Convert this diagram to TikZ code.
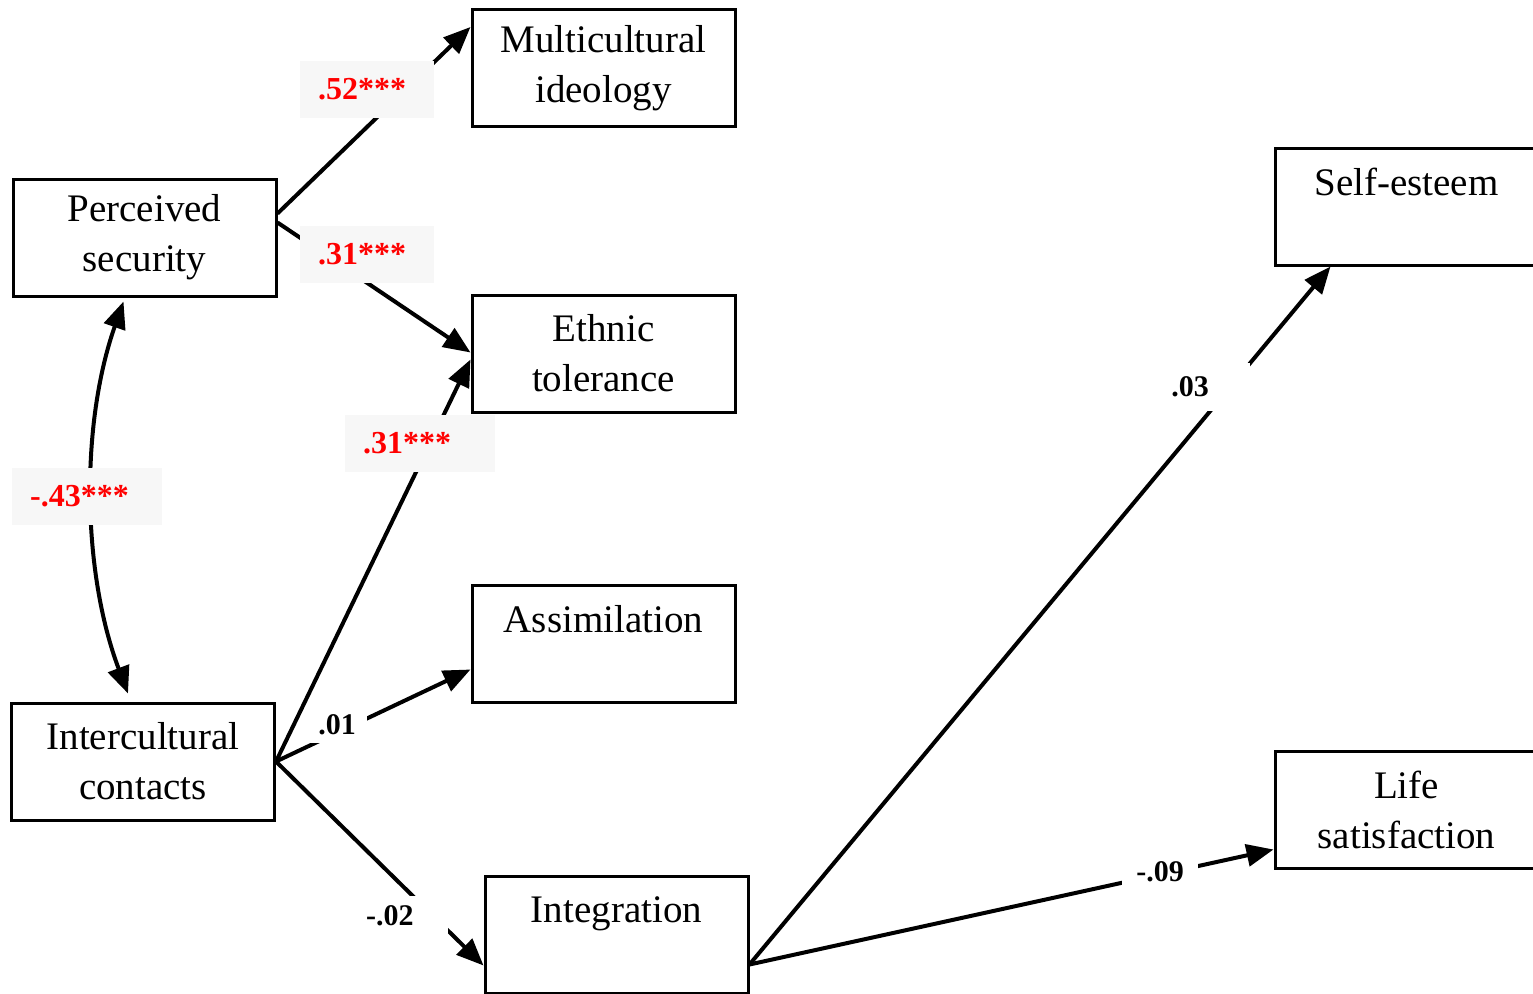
\documentclass[tikz,border=0pt]{standalone}
\usepackage{fontspec}
\setmainfont{Liberation Serif}
\usetikzlibrary{arrows.meta,calc}
\definecolor{lblgray}{RGB}{247,247,247}
\begin{document}
\begin{tikzpicture}[x=1pt,y=-1pt,
  var/.style={draw=black, line width=3pt, minimum width=263pt, minimum height=117pt, inner sep=0pt, align=center, font=\fontsize{39}{50}\selectfont},
  conn/.style={line width=4pt, -{Triangle[length=27pt,width=22pt]}},
  dconn/.style={line width=4pt, {Triangle[length=27pt,width=22pt]}-{Triangle[length=27pt,width=22pt]}},
  redlbl/.style={fill=lblgray, text=red, font=\bfseries\fontsize{32}{36}\selectfont, anchor=west, inner xsep=18pt, inner ysep=0pt, minimum height=57pt, align=left},
  blklbl/.style={fill=white, font=\bfseries\fontsize{30}{34}\selectfont, inner sep=0pt}
]
\clip (0,0) rectangle (1533,993);
% variables
\node[var] (MI) at (603.5,68) {Multicultural\\ideology};
\node[var] (PS) at (144.5,237.5) {Perceived\\security};
\node[var] (ET) at (603.5,353.5) {Ethnic\\tolerance};
\node[var] (AS) at (603.5,643.5) {Assimilation\\\mbox{}};
\node[var] (IC) at (143,761.5) {Intercultural\\contacts};
\node[var] (IN) at (616.5,934.5) {Integration\\\mbox{}};
\node[var] (SE) at (1406.5,206.5) {Self-esteem\\\mbox{}};
\node[var] (LS) at (1406.5,809.5) {Life\\satisfaction};
% paths
\draw[conn] ($(PS.east)+(0,-24)$) -- ($(MI.west)+(0,-41)$);
\draw[conn] ($(PS.east)+(0,-15)$) -- ($(ET.west)+(0,-1)$);
\draw[conn] (IC.east) -- ($(ET.west)+(0,6)$);
\draw[conn] (IC.east) -- ($(AS.west)+(0,26)$);
\draw[conn] (IC.east) -- ($(IN.west)+(0,31)$);
\draw[conn] ($(IN.east)+(0,30)$) -- ($(SE.south west)+(57,0)$);
\draw[conn] ($(IN.east)+(0,30)$) -- ($(LS.west)+(0,40)$);
\draw[dconn] ($(PS.south west)+(112,4)$) to[bend right=20, looseness=0.85] ($(IC.north west)+(118,-8)$);
% labels
\node[redlbl, text width=98pt] (L1) at (300,89.5) {.52***};
\node[redlbl, text width=98pt] (L2) at (300,254.5) {.31***};
\node[redlbl, text width=114pt] (L3) at (345,443.5) {.31***};
\node[redlbl, text width=114pt] (L4) at (12,496.5) {-.43***};
\node[blklbl, minimum width=60pt, minimum height=36pt] (L5) at (337,725) {.01};
\node[blklbl, anchor=west, inner xsep=14pt, text width=68pt, align=left, minimum height=40pt] (L6) at (352,916) {-.02};
\node[blklbl, minimum width=120pt, minimum height=48pt] (L7) at (1190,387) {.03};
\node[blklbl, minimum width=76pt, minimum height=34pt] (L8) at (1160,872) {-.09};
\end{tikzpicture}
\end{document}
